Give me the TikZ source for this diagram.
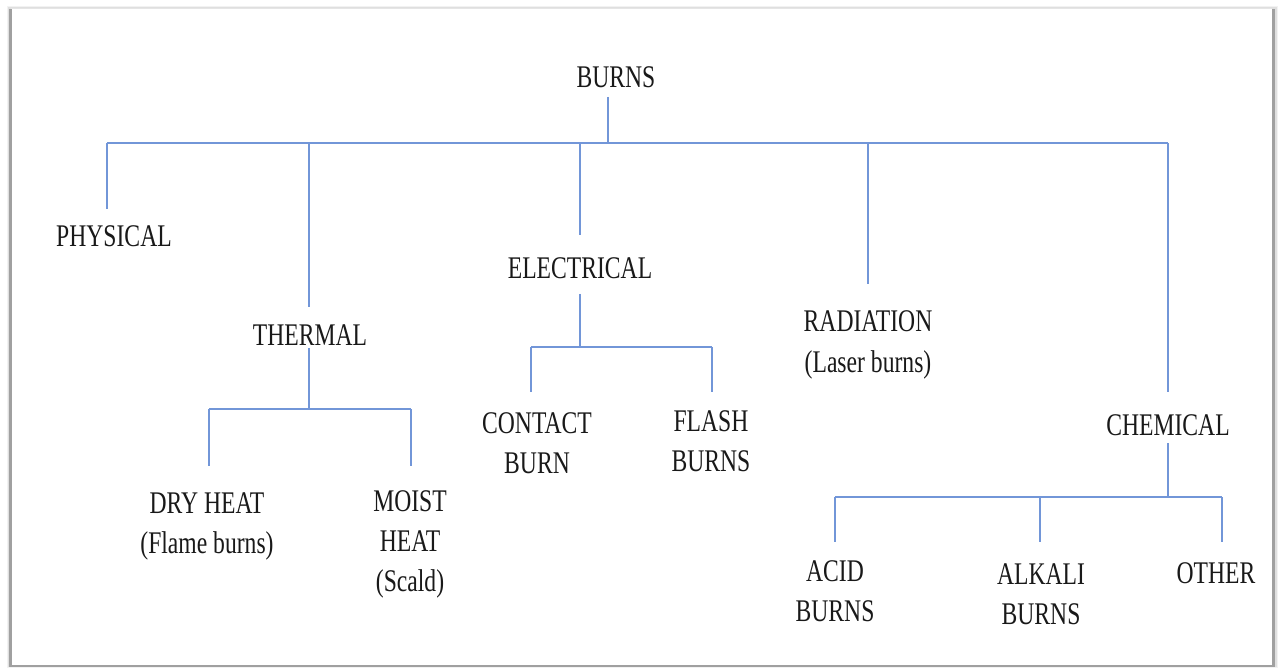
\documentclass[tikz,border=0pt]{standalone}
\usepackage{fontspec}
\setmainfont{Liberation Serif}[FakeStretch=0.75]
\definecolor{linkblue}{RGB}{114,150,216}
\definecolor{edgegray}{RGB}{160,160,160}
\begin{document}
\begin{tikzpicture}[x=1pt,y=-1pt,
  lbl/.style={inner sep=0pt, align=center, anchor=base, text=black!90,
    font=\fontsize{31.5}{40}\selectfont},
  link/.style={draw=linkblue, line width=1.5pt}]
\useasboundingbox (0,0) rectangle (1280,668);
% page with soft shadowed frame
\fill[gray!10] (7,6) rectangle (1278,668);
\fill[gray!25] (8,7) rectangle (1277,667);
\fill[edgegray] (9,9) rectangle (1275,666.5);
\fill[gray!20] (11,8) rectangle (1272,9.5);
\fill[white] (12,9.5) rectangle (1272,664.5);

% labels (base = baseline of the last line)
\node[lbl] (burns)   at (616,88)   {BURNS};
\node[lbl] (phys)    at (114,247)  {PHYSICAL};
\node[lbl] (therm)   at (310,345)  {THERMAL};
\node[lbl] (elec)    at (580,279)  {ELECTRICAL};
\node[lbl] (rad)     at (868,372)  {RADIATION\\(Laser burns)};
\node[lbl] (chem)    at (1168,435) {CHEMICAL};
\node[lbl] (dry)     at (207,553)  {DRY HEAT\\(Flame burns)};
\node[lbl] (moist)   at (410,591)  {MOIST\\HEAT\\(Scald)};
\node[lbl] (contact) at (537,473)  {CONTACT\\BURN};
\node[lbl] (flash)   at (711,471)  {FLASH\\BURNS};
\node[lbl] (acid)    at (835,621)  {ACID\\BURNS};
\node[lbl] (alkali)  at (1041,624) {ALKALI\\BURNS};
\node[lbl] (other)   at (1216,583) {OTHER};

% junction coordinates
\coordinate (b0) at (608,97);
\coordinate (b1) at (608,143);
\coordinate (t0) at (309,348);
\coordinate (t1) at (309,409);
\coordinate (e0) at (580,294);
\coordinate (e1) at (580,347);
\coordinate (c0) at (1168,443);
\coordinate (c1) at (1168,497);

% first level
\draw[link] (b0) -- (b1);
\draw[link] (107,143) -- (1168,143);
\draw[link] (107,143) -- (107,209);
\draw[link] (309,143) -- (309,307);
\draw[link] (580,143) -- (580,235);
\draw[link] (868,143) -- (868,284);
\draw[link] (1168,143) -- (1168,392);

% thermal branch
\draw[link] (t0) -- (t1);
\draw[link] (209,409) -- (411,409);
\draw[link] (209,409) -- (209,466);
\draw[link] (411,409) -- (411,466);

% electrical branch
\draw[link] (e0) -- (e1);
\draw[link] (531,347) -- (712,347);
\draw[link] (531,347) -- (531,392);
\draw[link] (712,347) -- (712,392);

% chemical branch
\draw[link] (c0) -- (c1);
\draw[link] (835,497) -- (1222,497);
\draw[link] (835,497) -- (835,542);
\draw[link] (1040,497) -- (1040,542);
\draw[link] (1222,497) -- (1222,542);
\end{tikzpicture}
\end{document}
